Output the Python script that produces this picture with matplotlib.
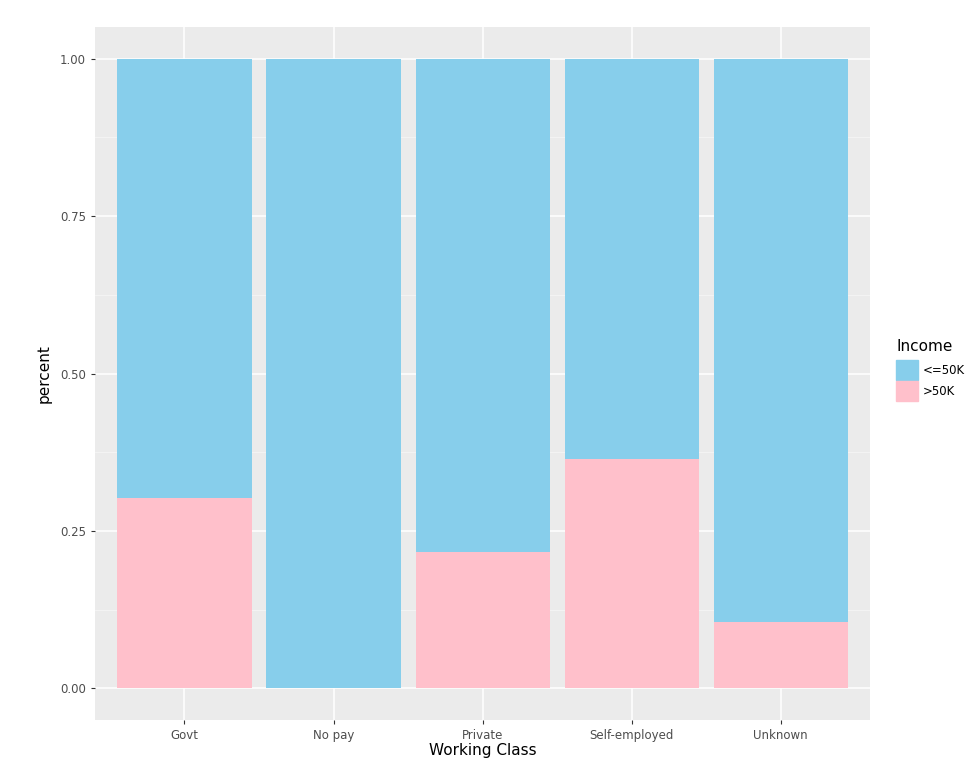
import matplotlib
matplotlib.use('Agg')
import matplotlib.pyplot as plt
from matplotlib.patches import Patch
import numpy as np

# share of each income group per working class
classes = ['Govt', 'No pay', 'Private', 'Self-employed', 'Unknown']
high_share = [0.303, 0.0, 0.216, 0.365, 0.105]   # >50K
low_share = [1 - v for v in high_share]           # <=50K

col_low = '#87CEEB'
col_high = '#FFC0CB'

fig = plt.figure(figsize=(9.7, 7.75), dpi=100)
ax = fig.add_axes([0.098, 0.071, 0.799, 0.894])
ax.set_facecolor('#EBEBEB')

x = np.arange(1, len(classes) + 1)
ax.bar(x, high_share, width=0.9, color=col_high, zorder=3)
ax.bar(x, low_share, width=0.9, bottom=high_share, color=col_low, zorder=3)

ax.set_xlim(0.4, 5.6)
ax.set_ylim(-0.05, 1.05)
ax.set_xticks(x)
ax.set_xticklabels(classes)
ax.set_yticks([0, 0.25, 0.5, 0.75, 1.0])
ax.set_yticklabels(['0.00', '0.25', '0.50', '0.75', '1.00'])
ax.set_yticks([0.125, 0.375, 0.625, 0.875], minor=True)

ax.grid(which='major', color='white', linewidth=1.1, zorder=0)
ax.grid(which='minor', axis='y', color='#F5F5F5', linewidth=0.6, zorder=0)
ax.set_axisbelow(True)
for s in ax.spines.values():
    s.set_visible(False)
ax.tick_params(which='major', length=3, color='#333333', labelcolor='#4D4D4D', labelsize=8.5, width=0.8)
ax.tick_params(which='minor', length=0)

ax.set_xlabel('Working Class', fontsize=11, labelpad=1)
ax.set_ylabel('percent', fontsize=11, labelpad=6)

handles = [Patch(color=col_low, label='<=50K'), Patch(color=col_high, label='>50K')]
leg = fig.legend(handles=handles, title='Income', loc='upper left',
                 bbox_to_anchor=(0.918, 0.57), frameon=False, fontsize=8.5,
                 title_fontsize=11, handlelength=1.85, handleheight=2.3,
                 handletextpad=0.35, labelspacing=0.05, borderpad=0)
leg._legend_box.align = 'left'
leg._legend_box.sep = 4

plt.savefig('out.png', dpi=100)
